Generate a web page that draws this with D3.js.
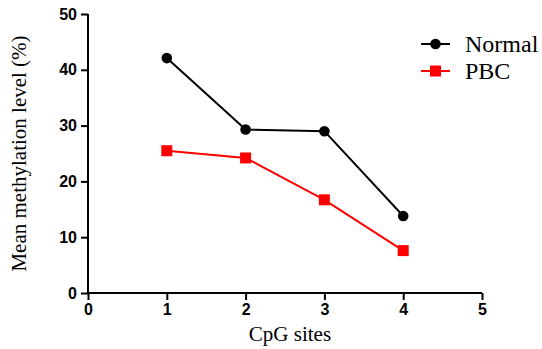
<!DOCTYPE html>
<html>
<head>
<meta charset="utf-8">
<script src="https://cdn.jsdelivr.net/npm/d3@7"></script>
<style>
  body { margin: 0; background: #fff; }
  .axis path, .axis line { stroke: #000; stroke-width: 2px; }
  .axis text { font-family: "Liberation Sans", Arial, sans-serif; font-weight: bold; font-size: 16px; fill: #000; }
  .title { font-family: "Liberation Serif", "Times New Roman", serif; font-size: 21px; fill: #000; }
  .legend text { font-family: "Liberation Serif", "Times New Roman", serif; font-size: 24px; fill: #000; }
</style>
</head>
<body>
<div id="chart"></div>
<script>
// data
const sites = [1, 2, 3, 4]
const normal = [42.1, 29.3, 29.0, 13.8]
const pbc = [25.5, 24.2, 16.7, 7.6]
const xTicks = [0, 1, 2, 3, 4, 5]
const yTicks = [0, 10, 20, 30, 40, 50]

const series = [
  { name: "Normal", values: normal, color: "#000", shape: "circle" },
  { name: "PBC", values: pbc, color: "#ff0000", shape: "square" }
]

// dimensions
let W = 542, H = 349
let margin = { top: 14, right: 60, bottom: 56, left: 88 }
let width = W - margin.left - margin.right
let height = H - margin.top - margin.bottom

let svg = d3.select("#chart").append("svg")
  .attr("width", W)
  .attr("height", H)

let g = svg.append("g")
  .attr("transform", "translate(" + margin.left + "," + margin.top + ")")

// scales
let x = d3.scaleLinear().domain([0, 5]).range([0, width])
let y = d3.scaleLinear().domain([0, 50]).range([height, 0])

g.append("g")
  .attr("class", "x axis")
  .attr("transform", "translate(0," + height + ")")
  .call(d3.axisBottom(x).tickValues(xTicks).tickSize(7).tickPadding(4).tickFormat(d3.format("d")))

g.append("g")
  .attr("class", "y axis")
  .call(d3.axisLeft(y).tickValues(yTicks).tickSize(7).tickPadding(4).tickFormat(d3.format("d")))

// the axes meet in a plain corner, no outer ticks on the domain path
g.selectAll(".axis path.domain").remove()
g.append("line").attr("x1", 0).attr("x2", width).attr("y1", height).attr("y2", height)
  .attr("stroke", "#000").attr("stroke-width", 2)
g.append("line").attr("x1", 0).attr("x2", 0).attr("y1", 0).attr("y2", height)
  .attr("stroke", "#000").attr("stroke-width", 2)

// axis titles
svg.append("text")
  .attr("class", "title")
  .attr("x", margin.left + width / 2 + 5)
  .attr("y", 341)
  .attr("text-anchor", "middle")
  .text("CpG sites")

svg.append("text")
  .attr("class", "title")
  .attr("transform", "translate(26," + (margin.top + height / 2) + ") rotate(-90)")
  .attr("text-anchor", "middle")
  .text("Mean methylation level (%)")

// lines and markers
let line = d3.line()
  .x((d, i) => x(sites[i]))
  .y(d => y(d))

let drawMarker = (sel, s, cx, cy) => {
  if (s.shape === "circle") {
    sel.append("circle").attr("cx", cx).attr("cy", cy).attr("r", 5.3).attr("fill", s.color)
  } else {
    sel.append("rect").attr("x", cx - 5.5).attr("y", cy - 5.5).attr("width", 11).attr("height", 11).attr("fill", s.color)
  }
}

series.forEach(s => {
  g.append("path")
    .datum(s.values)
    .attr("fill", "none")
    .attr("stroke", s.color)
    .attr("stroke-width", 2)
    .attr("d", line)
  let mg = g.append("g")
  s.values.forEach((v, i) => drawMarker(mg, s, x(sites[i]), y(v)))
})

// legend
let legend = svg.append("g").attr("class", "legend")
series.forEach((s, i) => {
  let ly = 44 + i * 27
  let row = legend.append("g")
  row.append("line").attr("x1", 421).attr("x2", 450).attr("y1", ly).attr("y2", ly)
    .attr("stroke", s.color).attr("stroke-width", 2)
  drawMarker(row, s, 435.5, ly)
  row.append("text").attr("x", 465).attr("y", ly + 8).text(s.name)
})
</script>
</body>
</html>
